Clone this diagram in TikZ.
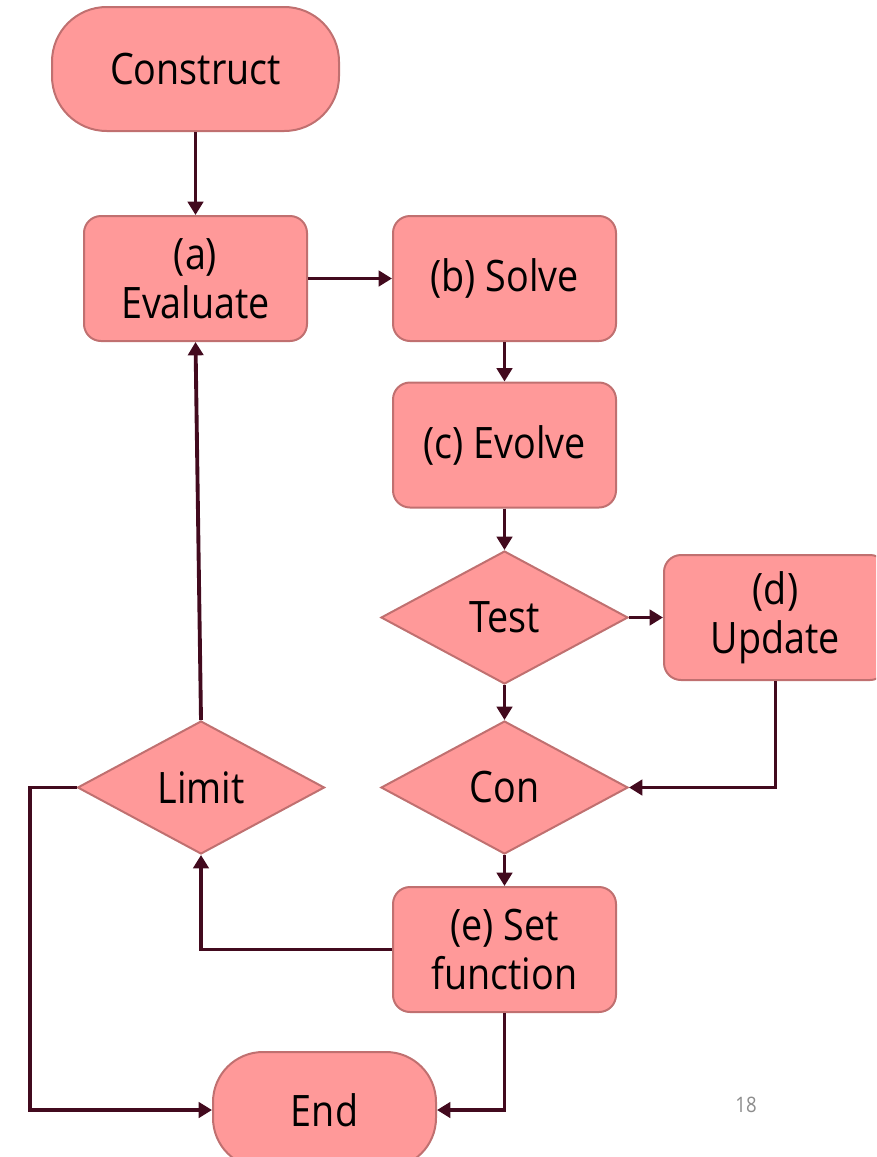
\documentclass[tikz,border=0pt]{standalone}
\usepackage{fontspec}
\setmainfont[FakeStretch=0.87]{Open Sans}
\usetikzlibrary{shapes.geometric,arrows.meta}

\definecolor{boxfill}{HTML}{FF9999}
\definecolor{boxline}{HTML}{C07070}
\definecolor{flow}{HTML}{420A1E}
\definecolor{pagenum}{HTML}{8C8C8C}

\tikzset{
  base/.style={fill=boxfill, draw=boxline, line width=1.5pt, inner sep=0pt,
    align=center, font=\fontsize{32.5}{37}\selectfont, text=black},
  procbox/.style={base, rectangle, rounded corners=12.75pt,
    minimum width=167.25pt, minimum height=93.75pt},
  terminal/.style={base, rectangle, rounded corners=41pt,
    minimum width=215.25pt, minimum height=93pt},
  endcap/.style={base, rectangle, rounded corners=37.5pt,
    minimum width=167.25pt, minimum height=87pt},
  decision/.style={base, diamond, shape aspect=1.86,
    minimum width=185.25pt, minimum height=99.75pt},
  flowline/.style={draw=flow, line width=2.9pt,
    -{Triangle[length=10pt,width=11.5pt]}},
}

\begin{document}
\begin{tikzpicture}[x=0.75pt, y=-0.75pt]
  \useasboundingbox (0,0) rectangle (876,1157);
  \clip (0,0) rectangle (876,1157);

  % steps of the procedure
  \node[terminal] (construct) at (195.5,69) {Construct};
  \node[procbox]  (eval)      at (195.5,278.5) {(a)\\Evaluate};
  \node[procbox]  (solve)     at (504.5,278.5) {(b) Solve};
  \node[procbox]  (evolve)    at (504.5,445) {(c) Evolve};
  \node[decision] (test)      at (504.5,617.5) {Test};
  \node[procbox]  (update)    at (775.5,617.5) {(d)\\Update};
  \node[decision] (con)       at (504.5,787.5) {Con};
  \node[decision] (limit)     at (201,787.5) {Limit};
  \node[procbox]  (setf)      at (504.5,949.5) {(e) Set\\function};
  \node[endcap]   (end)       at (324.5,1110) {End};

  \coordinate (outer) at (30,1110);

  % page number
  \node[text=pagenum, font=\fontsize{16}{19}\selectfont] (pnum) at (746,1105) {18};

  % connectors
  \draw[flowline] (construct) -- (eval);
  \draw[flowline] (eval) -- (solve);
  \draw[flowline] (solve) -- (evolve);
  \draw[flowline] (evolve) -- (test);
  \draw[flowline] (test) -- (update);
  \draw[flowline] (test) -- (con);
  \draw[flowline] (update.south) |- (con.east);
  \draw[flowline] (con) -- (setf);
  \draw[flowline] (setf.west) -| (limit.south);
  \draw[flowline] (limit.north) -- (eval.south);
  \draw[flowline] (limit.west) -| (outer) -- (end.west);
  \draw[flowline] (setf.south) |- (end.east);
\end{tikzpicture}
\end{document}
